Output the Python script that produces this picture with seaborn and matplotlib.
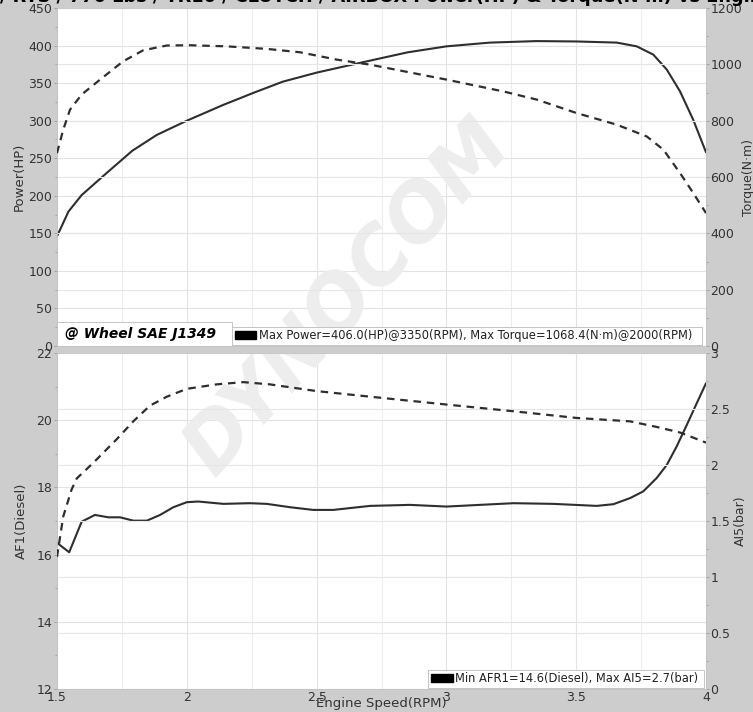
import matplotlib
matplotlib.use("Agg")
import matplotlib.pyplot as plt
from matplotlib.patches import Patch, Rectangle
from matplotlib.ticker import MultipleLocator, FuncFormatter
import pandas as pd
import seaborn as sns

# power curve (HP)
rpm_power = [1.50, 1.544, 1.595, 1.69, 1.79, 1.884, 2.00, 2.14, 2.256, 2.37, 2.50, 2.667,
             2.85, 3.00, 3.168, 3.348, 3.502, 3.656, 3.733, 3.797, 3.849, 3.90, 3.951, 4.00]
power_hp = [146, 179, 201, 230, 260, 281, 300, 321, 337, 352, 364, 377,
            391, 399, 404, 406, 405.5, 404, 399, 388, 368, 339, 301, 258]

# torque curve (N-m)
rpm_torque = [1.50, 1.524, 1.55, 1.595, 1.666, 1.755, 1.832, 1.923, 2.01, 2.154, 2.308, 2.436,
              2.577, 2.706, 3.00, 3.219, 3.348, 3.502, 3.656, 3.772, 3.836, 3.90, 3.951, 4.00]
torque_nm = [685, 768, 839, 893, 946, 1011, 1050, 1067, 1068, 1064, 1055, 1043,
             1017, 999, 946, 904, 875, 827, 786, 744, 697, 614, 543, 472]

# air fuel ratio (AF1)
rpm_afr = [1.50, 1.547, 1.595, 1.646, 1.698, 1.743, 1.794, 1.846, 1.897, 1.948, 2.00, 2.044,
           2.141, 2.243, 2.308, 2.398, 2.487, 2.564, 2.706, 2.86, 3.00, 3.258, 3.412, 3.579,
           3.643, 3.707, 3.758, 3.81, 3.849, 3.887, 3.926, 3.964, 4.00]
afr = [16.35, 16.07, 16.98, 17.18, 17.11, 17.11, 17.01, 17.01, 17.18, 17.41, 17.56, 17.58,
       17.51, 17.53, 17.51, 17.41, 17.33, 17.33, 17.45, 17.48, 17.43, 17.53, 17.51, 17.45,
       17.50, 17.68, 17.88, 18.28, 18.67, 19.22, 19.86, 20.5, 21.1]

# boost (AI5, bar)
rpm_boost = [1.50, 1.524, 1.556, 1.576, 1.64, 1.73, 1.794, 1.858, 1.923, 2.00, 2.115, 2.218,
             2.32, 2.41, 2.50, 2.706, 3.00, 3.258, 3.502, 3.707, 3.81, 3.90, 4.00]
boost_bar = [1.18, 1.54, 1.78, 1.88, 2.02, 2.23, 2.39, 2.53, 2.61, 2.68, 2.72, 2.74,
             2.72, 2.69, 2.66, 2.61, 2.54, 2.48, 2.42, 2.39, 2.34, 2.29, 2.20]

title = "/ RTS / 770 Lbs / TR10 / CLUTCH / AIRBOX Power(HP) & Torque(N\u00b7m) vs Engine Speed(RPM)"
top_note = "Max Power=406.0(HP)@3350(RPM), Max Torque=1068.4(N\u00b7m)@2000(RPM)  "
bottom_note = "Min AFR1=14.6(Diesel), Max AI5=2.7(bar) "

sns.set_style("white")
plt.rcParams['font.family'] = ['DejaVu Sans']

BG = '#cdcdcd'
LINE = '#2e2e2e'
DASH = (0, (3.4, 2.6))

fig = plt.figure(figsize=(7.53, 7.12), dpi=100, facecolor=BG)
ax_top = fig.add_axes([0.0757, 0.5140, 0.8619, 0.4747])
ax_bot = fig.add_axes([0.0757, 0.0323, 0.8619, 0.4719])
ax_top2 = ax_top.twinx()
ax_bot2 = ax_bot.twinx()

df_p = pd.DataFrame({'rpm': rpm_power, 'val': power_hp})
df_t = pd.DataFrame({'rpm': rpm_torque, 'val': torque_nm})
df_a = pd.DataFrame({'rpm': rpm_afr, 'val': afr})
df_b = pd.DataFrame({'rpm': rpm_boost, 'val': boost_bar})

sns.lineplot(data=df_p, x='rpm', y='val', ax=ax_top, color=LINE, lw=1.5, zorder=3)
sns.lineplot(data=df_t, x='rpm', y='val', ax=ax_top2, color=LINE, lw=1.6, linestyle=DASH, zorder=3)
sns.lineplot(data=df_a, x='rpm', y='val', ax=ax_bot, color=LINE, lw=1.5, zorder=3)
sns.lineplot(data=df_b, x='rpm', y='val', ax=ax_bot2, color=LINE, lw=1.6, linestyle=DASH, zorder=3)

fmt = FuncFormatter(lambda v, p: f"{v:g}")

def style_pair(ax, ax2, ylim, ystep, ylim2, ystep2, xlabels):
    ax.set_facecolor('white')
    ax.set_xlim(1.5, 4.0)
    ax.set_ylim(*ylim)
    ax2.set_ylim(*ylim2)
    ax.xaxis.set_major_locator(MultipleLocator(0.5))
    ax.xaxis.set_minor_locator(MultipleLocator(0.25))
    ax.yaxis.set_major_locator(MultipleLocator(ystep))
    ax.yaxis.set_minor_locator(MultipleLocator(ystep / 2))
    ax2.yaxis.set_major_locator(MultipleLocator(ystep2))
    ax2.yaxis.set_minor_locator(MultipleLocator(ystep2 / 2))
    ax.xaxis.set_major_formatter(fmt)
    ax.yaxis.set_major_formatter(fmt)
    ax2.yaxis.set_major_formatter(fmt)
    ax.grid(True, which='major', color='#e2e2e2', lw=0.8)
    ax.grid(True, which='minor', axis='x', color='#ededed', lw=0.8)
    ax2.grid(True, which='major', axis='y', color='#e6e6e6', lw=0.8)
    for a in (ax, ax2):
        for s in a.spines.values():
            s.set_color('#c4c4c4')
            s.set_linewidth(0.6)
        a.tick_params(which='both', direction='out', color='#9a9a9a', labelcolor='#333333',
                      labelsize=9, length=2, width=0.6, pad=1.5)
        a.tick_params(which='minor', length=1.2)
    ax2.tick_params(axis='y', pad=1)
    ax.tick_params(axis='x', which='both', length=0, labelbottom=xlabels)
    ax.set_xlabel('')
    ax2.set_xlabel('')

style_pair(ax_top, ax_top2, (0, 450), 50, (0, 1200), 200, False)
style_pair(ax_bot, ax_bot2, (12, 22), 2, (0, 3), 0.5, True)

ax_top.set_ylabel('Power(HP)', fontsize=9.5, color='#333333', labelpad=2)
ax_top2.set_ylabel('Torque(N\u00b7m)', fontsize=9, color='#333333', labelpad=0)
ax_bot.set_ylabel('AF1(Diesel)', fontsize=9.5, color='#333333', labelpad=6)
ax_bot2.set_ylabel('AI5(bar)', fontsize=9, color='#333333', labelpad=3)
ax_bot.set_xlabel('Engine Speed(RPM)', fontsize=9.5, color='#333333', labelpad=-5)

# watermark, clipped to each plot area so it stays under the curves and grid
for ax in (ax_top, ax_bot):
    ax.text(0.462, 0.582, 'DYNOCOM', transform=fig.transFigure, rotation=48,
            fontsize=56, fontweight='bold', fontstyle='italic', color='#ededed',
            ha='center', va='center', zorder=1, clip_on=True)

# "@ Wheel" tag, bottom-left corner of the power chart
ax_top2.add_patch(Rectangle((0.0, 0.0), 0.27, 0.072, transform=ax_top2.transAxes,
                            facecolor='white', edgecolor='#c4c4c4', lw=0.7, zorder=6))
ax_top2.text(0.012, 0.036, '@ Wheel SAE J1349', transform=ax_top2.transAxes,
             fontsize=10, fontweight='bold', fontstyle='italic', color='black',
             ha='left', va='center', zorder=7)

leg_kw = dict(frameon=True, fancybox=False, edgecolor='#c4c4c4', framealpha=1,
              fontsize=8.3, handlelength=1.9, handleheight=0.7, handletextpad=0.2,
              borderpad=0.2, borderaxespad=0.0)
leg1 = ax_top2.legend(handles=[Patch(facecolor='black', edgecolor='black')], labels=[top_note],
                      loc='lower left', bbox_to_anchor=(0.27, 0.004), **leg_kw)
leg1.set_zorder(5)
leg2 = ax_bot2.legend(handles=[Patch(facecolor='black', edgecolor='black')], labels=[bottom_note],
                      loc='lower right', bbox_to_anchor=(0.997, 0.004), **leg_kw)
leg2.set_zorder(5)
for leg in (leg1, leg2):
    leg.get_frame().set_linewidth(0.7)
    for t in leg.get_texts():
        t.set_color('#222222')

# title is cut by the top of the image in the source
fig.text(0.0, 0.9972, title, fontsize=12.8, fontweight='bold', color='black',
         ha='left', va='baseline')

fig.savefig('out.png', dpi=100, facecolor=BG)
